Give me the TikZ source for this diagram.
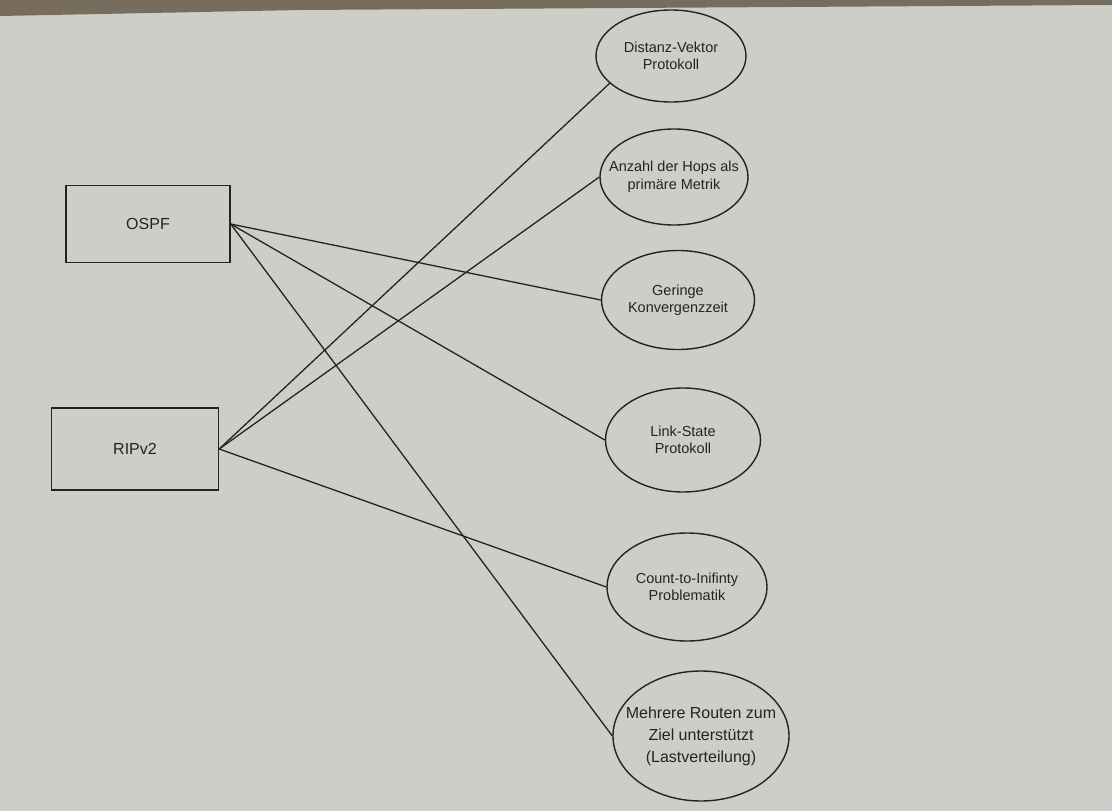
\documentclass[tikz,border=0pt]{standalone}
\usepackage{fontspec}
\setmainfont{Liberation Sans}
\usetikzlibrary{shapes.geometric}
\definecolor{paper}{RGB}{206,206,201}
\definecolor{edge}{RGB}{120,108,92}
\definecolor{ink}{RGB}{35,35,35}
\tikzset{
  box/.style={draw=ink, line width=1.4pt, rectangle, inner sep=0pt, font=\fontsize{16}{19}\selectfont, text=ink},
  oval/.style={draw=ink, line width=1.4pt, ellipse, inner sep=-50pt, align=center, font=\fontsize{14.5}{17.5}\selectfont, text=ink},
  link/.style={draw=ink, line width=1.3pt}
}
\begin{document}
\begin{tikzpicture}[x=1pt, y=-1pt]
\useasboundingbox (0,0) rectangle (1112,811);
\fill[paper] (0,0) rectangle (1112,811);
\fill[edge] (0,0) -- (1112,0) -- (1112,5) -- (300,10) -- (0,16) -- cycle;

\node[box, minimum width=164pt, minimum height=77pt] (ospf) at (148,224) {OSPF};
\node[box, minimum width=167pt, minimum height=82pt] (rip) at (135,449) {RIPv2};

\node[oval, minimum width=150pt, minimum height=92pt] (dv) at (671,56) {Distanz-Vektor\\Protokoll};
\node[oval, minimum width=148pt, minimum height=96pt] (hops) at (674,177) {Anzahl der Hops als\\primäre Metrik};
\node[oval, minimum width=153pt, minimum height=99pt] (konv) at (678,300) {Geringe\\Konvergenzzeit};
\node[oval, minimum width=155pt, minimum height=104pt] (ls) at (683,440) {Link-State\\Protokoll};
\node[oval, minimum width=160pt, minimum height=108pt] (cti) at (687,587) {Count-to-Inifinty\\Problematik};
\node[oval, minimum width=176pt, minimum height=130pt, font=\fontsize{16}{22}\selectfont] (multi) at (701,736) {Mehrere Routen zum\\Ziel unterstützt\\(Lastverteilung)};

\draw[link] (ospf.east) -- (konv.west);
\draw[link] (ospf.east) -- (ls.west);
\draw[link] (ospf.east) -- (multi.west);
\draw[link] (rip.east) -- (dv.204);
\draw[link] (rip.east) -- (hops.west);
\draw[link] (rip.east) -- (cti.west);
\end{tikzpicture}
\end{document}
